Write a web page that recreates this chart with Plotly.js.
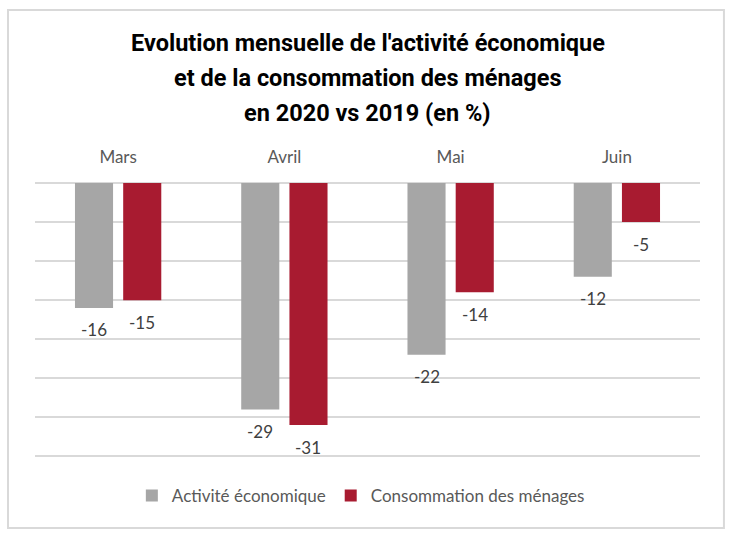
<!DOCTYPE html>
<html>
<head>
<meta charset="utf-8">
<script src="https://cdn.plot.ly/plotly-3.0.1.min.js"></script>
<style>
  body { margin: 0; background: #ffffff; }
  #chart { width: 732px; height: 540px; }
</style>
</head>
<body>
<div id="chart"></div>
<script>
// Données
const mois = ['Mars', 'Avril', 'Mai', 'Juin'];
const activite = [-16, -29, -22, -12];
const consommation = [-15, -31, -14, -5];
const nomsSeries = ['Activité économique', 'Consommation des ménages'];
const lignesTitre = [
    "Evolution mensuelle de l'activité économique",
    "et de la consommation des ménages",
    "en 2020 vs 2019 (en %)"
];

const GRIS = '#a6a6a6';
const ROUGE = '#a81b30';
const TEXTE = '#595959';
const POLICE = "Lato, 'Open Sans', sans-serif";

function traceBarre(nom, valeurs, couleur) {
    return {
        type: 'bar',
        name: nom,
        x: mois,
        y: valeurs,
        marker: { color: couleur },
        hoverinfo: 'x+y'
    };
}

const data = [
    traceBarre(nomsSeries[0], activite, GRIS),
    traceBarre(nomsSeries[1], consommation, ROUGE)
];

// Étiquettes de valeurs sous chaque barre (décalées vers le centre de la barre du groupe)
function etiquettes(valeurs, decalageX) {
    return valeurs.map((v, i) => ({
        x: mois[i], y: v, xref: 'x', yref: 'y',
        text: String(v),
        showarrow: false,
        xshift: decalageX,
        yshift: -22,
        yanchor: 'middle',
        font: { family: POLICE, size: 17, color: '#404040' }
    }));
}

// Titre en trois lignes, positionnées séparément pour garder l'interligne
const posTitre = [1.504, 1.378, 1.252];
const annotTitre = lignesTitre.map((t, i) => ({
    text: t, xref: 'paper', yref: 'paper',
    x: 0.5, y: posTitre[i], xanchor: 'center', yanchor: 'middle',
    showarrow: false,
    font: { family: "Roboto, sans-serif", size: 23.5, color: '#000000', weight: 'bold' }
}));

const layout = {
    width: 732,
    height: 540,
    paper_bgcolor: '#ffffff',
    plot_bgcolor: '#ffffff',
    margin: { l: 35, r: 32, t: 183, b: 79 },
    font: { family: POLICE, color: TEXTE },
    barmode: 'group',
    bargap: 0.42,
    bargroupgap: 0.21,
    showlegend: true,
    legend: {
        orientation: 'h',
        x: 0.49,
        xanchor: 'center',
        y: -0.061,
        yanchor: 'top',
        font: { family: POLICE, size: 17, color: TEXTE },
        itemwidth: 30,
        traceorder: 'normal'
    },
    xaxis: {
        side: 'top',
        showgrid: false,
        zeroline: false,
        showline: false,
        ticks: 'outside',
        ticklen: 12,
        tickcolor: 'rgba(0,0,0,0)',
        tickfont: { family: POLICE, size: 17, color: TEXTE }
    },
    yaxis: {
        range: [-35.6, 0],
        dtick: 5,
        tick0: 0,
        showticklabels: false,
        showgrid: true,
        gridcolor: '#d9d9d9',
        gridwidth: 1.5,
        zeroline: true,
        zerolinecolor: '#d9d9d9',
        zerolinewidth: 1.5,
        fixedrange: true
    },
    annotations: annotTitre
        .concat(etiquettes(activite, -24))
        .concat(etiquettes(consommation, 24)),
    shapes: [{
        type: 'rect',
        xref: 'paper', yref: 'paper',
        x0: -0.0406, x1: 1.036,
        y0: -0.241, y1: 1.622,
        line: { color: '#d9d9d9', width: 2 },
        fillcolor: 'rgba(0,0,0,0)',
        layer: 'below'
    }]
};

Plotly.newPlot('chart', data, layout, { displayModeBar: false, responsive: false });
</script>
</body>
</html>
